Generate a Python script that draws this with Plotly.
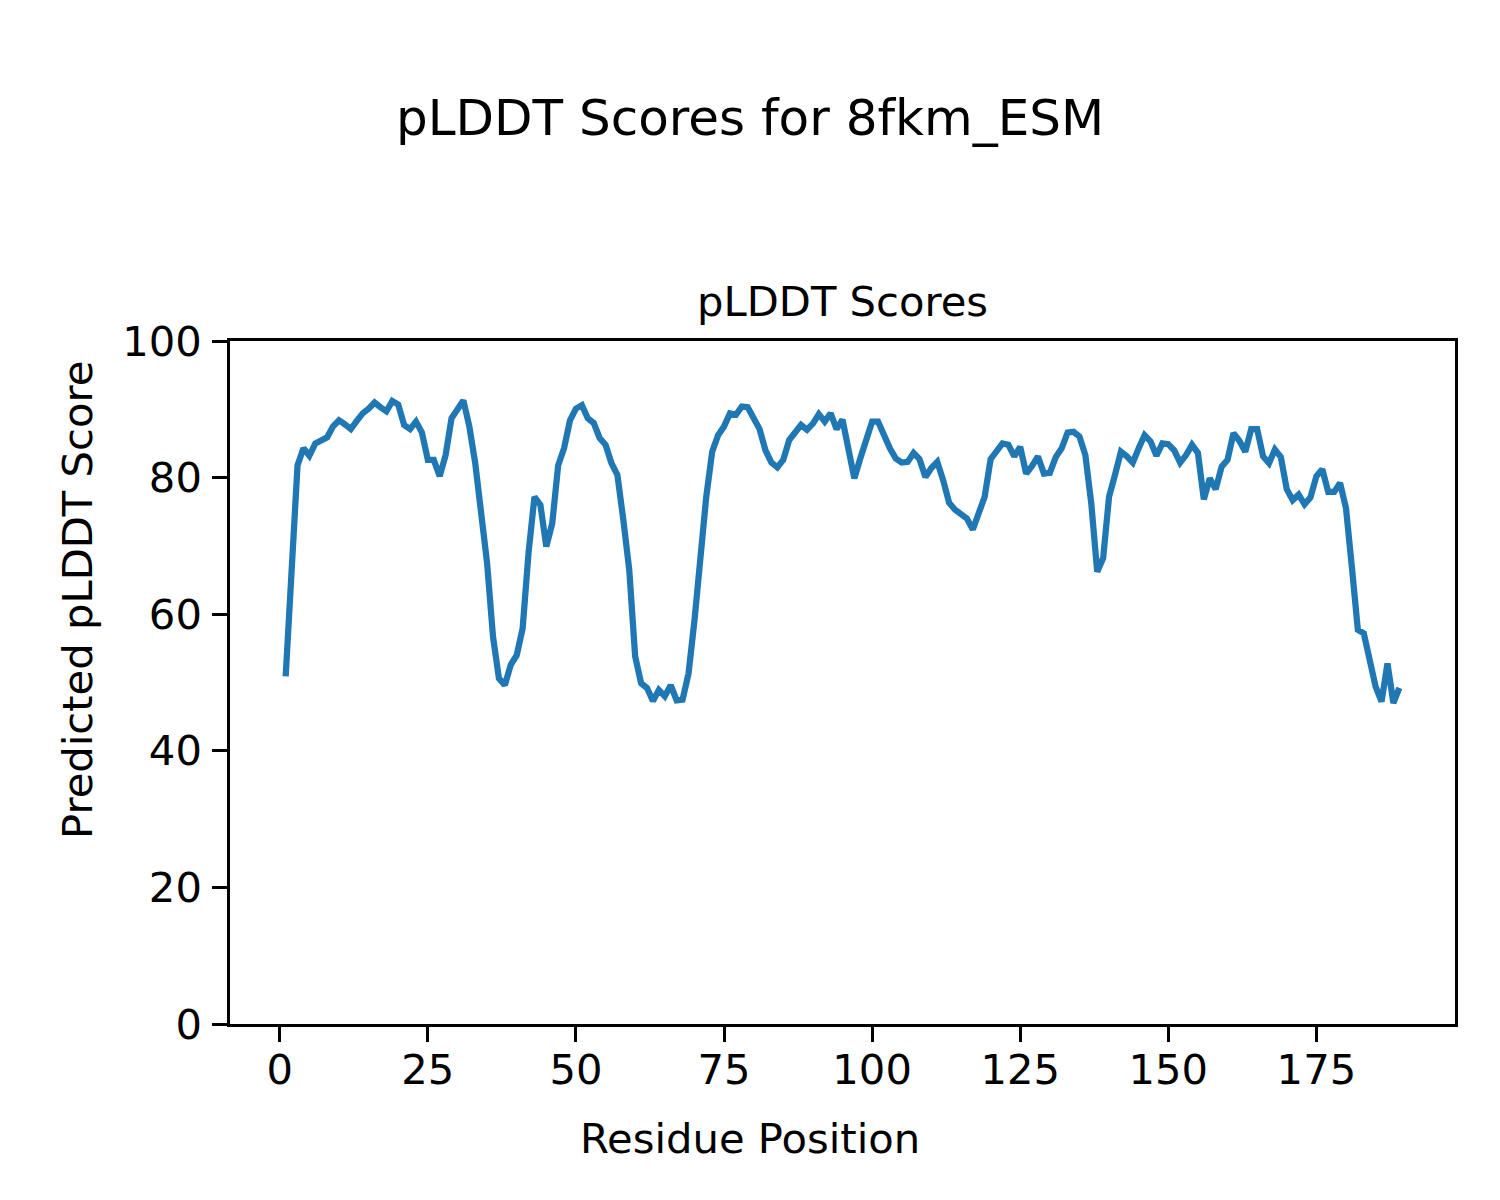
import plotly.graph_objects as go

residues = list(range(1, 190))
plddt = [
    50.9, 67.0, 81.8, 84.3, 83.2, 85.0, 85.5, 85.9, 87.5, 88.4,
    87.8, 87.1, 88.3, 89.4, 90.1, 91.0, 90.3, 89.7, 91.2, 90.7,
    87.7, 87.1, 88.2, 86.6, 82.6, 82.6, 80.2, 83.3, 88.7, 90.1,
    91.3, 87.5, 82.1, 74.8, 67.5, 56.7, 50.6, 49.6, 52.6, 54.0,
    57.9, 69.0, 77.2, 76.0, 69.9, 73.3, 81.8, 84.3, 88.4, 90.1,
    90.6, 88.7, 88.0, 85.8, 84.8, 82.1, 80.4, 73.8, 66.5, 53.8,
    49.9, 49.2, 47.3, 48.9, 48.0, 49.6, 47.4, 47.5, 51.3, 59.0,
    68.0, 77.2, 83.8, 86.2, 87.5, 89.4, 89.2, 90.4, 90.3, 88.7,
    87.1, 84.0, 82.2, 81.5, 82.6, 85.5, 86.5, 87.7, 87.0, 87.9,
    89.3, 88.2, 89.4, 87.1, 88.5, 84.0, 79.9, 82.8, 85.7, 88.2,
    88.2, 86.2, 84.3, 82.8, 82.2, 82.3, 83.6, 82.7, 80.1, 81.4,
    82.3, 79.6, 76.3, 75.3, 74.5, 74.0, 72.4, 74.5, 77.2, 82.7,
    83.9, 85.0, 84.8, 83.1, 84.5, 80.6, 81.7, 83.1, 80.6, 80.7,
    83.0, 84.3, 86.6, 86.7, 86.0, 83.3, 76.2, 66.2, 68.2, 77.2,
    80.4, 83.8, 83.1, 82.2, 84.3, 86.2, 85.3, 83.2, 85.0, 84.9,
    84.0, 82.2, 83.3, 84.8, 83.6, 76.8, 79.9, 78.3, 81.6, 82.6,
    86.5, 85.4, 83.8, 87.1, 87.1, 83.1, 82.1, 84.1, 83.0, 78.3,
    76.7, 77.5, 76.1, 77.1, 80.2, 81.2, 77.9, 77.9, 79.2, 75.5,
    66.8, 57.7, 57.2, 53.3, 49.4, 47.2, 52.8, 47.0, 49.2,
]
x_ticks = [0, 25, 50, 75, 100, 125, 150, 175]
y_ticks = [0, 20, 40, 60, 80, 100]

FONT = "DejaVu Sans"

fig = go.Figure()
fig.add_trace(go.Scatter(
    x=residues, y=plddt, mode="lines",
    line=dict(color="#1f77b4", width=6.25),
    showlegend=False,
))

axis_common = dict(
    showgrid=False, zeroline=False, showline=True, mirror=True,
    linecolor="black", linewidth=3.3, ticks="outside", ticklen=14.6,
    tickwidth=3.3, tickcolor="black",
    tickfont=dict(family=FONT, size=41.7, color="black"),
)

fig.update_xaxes(range=[-8.4, 198.4], tickvals=x_ticks,
                 ticktext=[str(t) for t in x_ticks],
                 ticklabelstandoff=-8, **axis_common)
fig.update_yaxes(range=[0, 100], tickvals=y_ticks,
                 ticktext=[str(t) for t in y_ticks],
                 ticklabelstandoff=2, **axis_common)

# page has an 8px body margin; plot area target (page coords): 230..1455 x 341..1024
fig.update_layout(
    width=1500, height=1200,
    margin=dict(l=222, r=53, t=333, b=184, pad=0),
    paper_bgcolor="white", plot_bgcolor="white",
    font=dict(family=FONT, color="black"),
    annotations=[
        dict(text="pLDDT Scores for 8fkm_ESM", xref="paper", yref="paper",
             x=(750 - 230) / 1225, y=(1024 - 118) / 683,
             xanchor="center", yanchor="middle", showarrow=False,
             font=dict(family=FONT, size=50, color="black")),
        dict(text="pLDDT Scores", xref="paper", yref="paper",
             x=0.5, y=(1024 - 302) / 683,
             xanchor="center", yanchor="middle", showarrow=False,
             font=dict(family=FONT, size=41.7, color="black")),
        dict(text="Residue Position", xref="paper", yref="paper",
             x=(750 - 230) / 1225, y=(1024 - 1138) / 683,
             xanchor="center", yanchor="middle", showarrow=False,
             font=dict(family=FONT, size=41.7, color="black")),
        dict(text="Predicted pLDDT Score", xref="paper", yref="paper",
             x=(77 - 230) / 1225, y=(1024 - 600) / 683,
             xanchor="center", yanchor="middle", showarrow=False, textangle=-90,
             font=dict(family=FONT, size=41.7, color="black")),
    ],
)

fig.write_html("out.html")
